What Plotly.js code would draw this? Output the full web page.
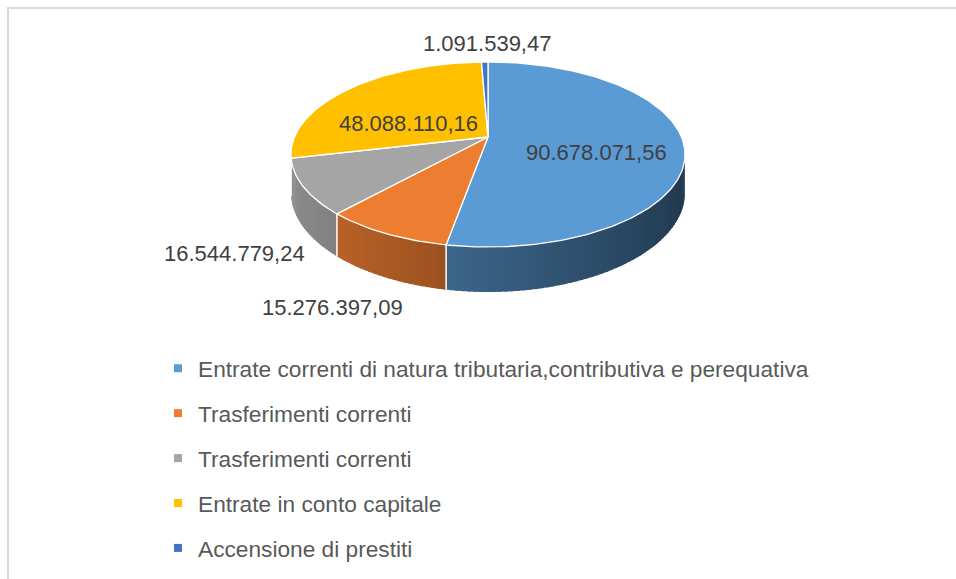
<!DOCTYPE html>
<html>
<head>
<meta charset="utf-8">
<script src="https://cdn.plot.ly/plotly-3.0.1.min.js"></script>
<style>
html,body{margin:0;padding:0;background:#fff;}
#chart{width:956px;height:579px;}
</style>
</head>
<body>
<div id="chart"></div>
<script>
// ---- data ----
const categories = [
  "Entrate correnti di natura tributaria,contributiva e perequativa",
  "Trasferimenti correnti",
  "Trasferimenti correnti",
  "Entrate in conto capitale",
  "Accensione di prestiti"
];
const values = [90678071.56, 15276397.09, 16544779.24, 48088110.16, 1091539.47];
const colors = ["#5b9bd5", "#ed7d31", "#a5a5a5", "#ffc000", "#4472c4"];

// ---- layout / geometry (pixels) ----
const W = 956, H = 579;
const cx = 488, cy = 137, A = 193.5, B = 89.2, K = 0.189, D = 36.5;
const labelPos = [[596, 152], [332, 307], [234, 253], [408, 123], [487, 43]];

function fmtIt(v) {
  const p = v.toFixed(2).split(".");
  return p[0].replace(/\B(?=(\d{3})+(?!\d))/g, ".") + "," + p[1];
}
function proj(tDeg, down) {
  const t = tDeg * Math.PI / 180;
  const s = Math.sin(t), c = Math.cos(t);
  const w = 1 + K * c;
  return [cx + A * s / w, cy - B * c / w + (down ? D / w : 0)];
}
function hexToRgb(h) {
  return [parseInt(h.substr(1, 2), 16), parseInt(h.substr(3, 2), 16), parseInt(h.substr(5, 2), 16)];
}
function shade(h, f) {
  const c = hexToRgb(h).map(v => Math.round(Math.min(255, v * f)));
  return "rgb(" + c.join(",") + ")";
}

const total = values.reduce((a, b) => a + b, 0);
const starts = [], ends = [];
let acc = 0;
values.forEach(v => { starts.push(acc / total * 360); acc += v; ends.push(acc / total * 360); });

const traces = [];
// legend entries
categories.forEach((name, i) => {
  traces.push({
    type: "scatter", mode: "markers", x: [null], y: [null], name: name,
    legendgroup: "g" + i, showlegend: true,
    marker: { symbol: "square", size: 8, color: colors[i] }, hoverinfo: "skip"
  });
});

// side faces (drawn from right to left, each segment overlapping the next one)
const tMin = 90 + Math.asin(K) * 180 / Math.PI, tMax = 360 - tMin;
values.forEach((v, i) => {
  const lo = Math.max(starts[i], tMin), hi = Math.min(ends[i], tMax);
  if (lo >= hi) return;
  const n = Math.max(1, Math.ceil((hi - lo) / 1.5));
  for (let j = 0; j < n; j++) {
    const s0 = lo + (hi - lo) * j / n;
    let s1 = lo + (hi - lo) * (j + 1) / n;
    const sEnd = Math.min(s1 + 0.8, tMax);
    const xs = [], ys = [];
    const m = 3;
    for (let q = 0; q <= m; q++) { const p = proj(s0 + (sEnd - s0) * q / m, false); xs.push(p[0]); ys.push(p[1]); }
    for (let q = m; q >= 0; q--) { const p = proj(s0 + (sEnd - s0) * q / m, true); xs.push(p[0]); ys.push(p[1]); }
    xs.push(xs[0]); ys.push(ys[0]);
    const mid = (s0 + s1) / 2 * Math.PI / 180;
    const f = 0.61 - 0.25 * Math.sin(mid);
    const col = shade(colors[i], f);
    traces.push({
      type: "scatter", mode: "lines", x: xs, y: ys, fill: "toself", fillcolor: col,
      line: { color: "rgba(0,0,0,0)", width: 0 }, showlegend: false, hoverinfo: "skip"
    });
  }
});
// white separators on side
ends.forEach((e, i) => {
  if (e > tMin && e < tMax) {
    const p0 = proj(e, false), p1 = proj(e, true);
    traces.push({
      type: "scatter", mode: "lines", x: [p0[0], p1[0]], y: [p0[1], p1[1]],
      line: { color: "#ffffff", width: 1.5 }, showlegend: false, hoverinfo: "skip"
    });
  }
});

// top faces
values.forEach((v, i) => {
  const xs = [cx], ys = [cy];
  const a0 = starts[i], a1 = ends[i];
  const n = Math.max(2, Math.ceil((a1 - a0) / 1));
  for (let q = 0; q <= n; q++) { const p = proj(a0 + (a1 - a0) * q / n, false); xs.push(p[0]); ys.push(p[1]); }
  xs.push(cx); ys.push(cy);
  traces.push({
    type: "scatter", mode: "lines", x: xs, y: ys, fill: "toself", fillcolor: colors[i],
    line: { color: "#ffffff", width: 1.3 }, showlegend: false, hoverinfo: "skip", name: categories[i]
  });
});

const annotations = values.map((v, i) => ({
  x: labelPos[i][0], y: labelPos[i][1], xref: "x", yref: "y",
  text: fmtIt(v), showarrow: false, xanchor: "center", yanchor: "middle",
  font: { family: "Liberation Sans, Arial, sans-serif", size: 22, color: "#404040" }
}));

const layout = {
  width: W, height: H,
  margin: { l: 0, r: 0, t: 0, b: 0 },
  paper_bgcolor: "#ffffff", plot_bgcolor: "#ffffff",
  xaxis: { range: [0, W], visible: false, fixedrange: true },
  yaxis: { range: [H, 0], visible: false, fixedrange: true },
  showlegend: true,
  legend: {
    x: 158 / W, y: 1 - 347 / H, xanchor: "left", yanchor: "top",
    font: { family: "Liberation Sans, Arial, sans-serif", size: 22.7, color: "#595959" },
    tracegroupgap: 12.4, bgcolor: "rgba(0,0,0,0)", itemclick: false, itemdoubleclick: false
  },
  annotations: annotations,
  shapes: [{
    type: "rect", xref: "x", yref: "y", x0: 8, y0: 8, x1: W + 20, y1: H + 20,
    line: { color: "#d9d9d9", width: 2 }, fillcolor: "rgba(0,0,0,0)"
  }]
};

Plotly.newPlot("chart", traces, layout, { staticPlot: true, displayModeBar: false });
</script>
</body>
</html>
